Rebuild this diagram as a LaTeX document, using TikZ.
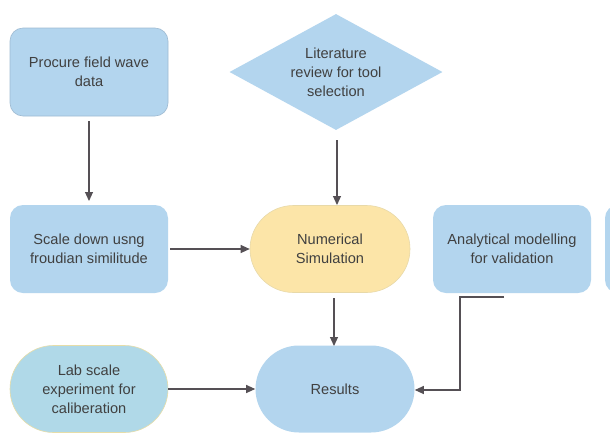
\documentclass[tikz,border=0pt]{standalone}
\usepackage{fontspec}
\setmainfont{Liberation Sans}
\usetikzlibrary{arrows.meta,shapes.geometric}
\definecolor{boxblue}{HTML}{B3D5EE}
\definecolor{boxedge}{HTML}{9FBBD2}
\definecolor{simyellow}{HTML}{FCE5A8}
\definecolor{simedge}{HTML}{E8D9A8}
\definecolor{labblue}{HTML}{B0D9E8}
\definecolor{labedge}{HTML}{E6DDA8}
\definecolor{txt}{HTML}{404040}
\definecolor{arr}{HTML}{555055}
\tikzset{
  x=1pt,y=-1pt,
  lbl/.style={font=\fontsize{14.6}{19}\selectfont, text=txt, align=center},
  rbox/.style={lbl, draw=boxedge, line width=0.6pt, fill=boxblue, rounded corners=13pt,
    minimum width=158pt, minimum height=88pt, inner sep=0pt},
  stad/.style={lbl, draw=boxedge, line width=0.6pt, fill=boxblue, rounded corners=43.5pt,
    minimum height=87pt, inner sep=0pt},
  conn/.style={draw=arr, line width=1.1pt, -{Triangle[length=9pt,width=8pt]}}
}
\begin{document}
\begin{tikzpicture}
\useasboundingbox (0,0) rectangle (610,432);
\fill[white] (0,0) rectangle (610,432);
\node[rbox] (procure) at (89,72) {Procure field wave\\data};
\node[lbl, diamond, fill=boxblue, aspect=1.83, minimum width=213pt, minimum height=116pt, inner sep=0pt] (lit) at (336,72) {Literature\\review for tool\\selection};
\node[rbox, draw=none] (scale) at (89,249) {Scale down usng\\froudian similitude};
\node[stad, fill=simyellow, draw=simedge, minimum width=160pt] (num) at (330,249) {Numerical\\Simulation};
\node[rbox, draw=none] (ana) at (512,249) {Analytical modelling\\for validation};
\node[rbox, draw=none] (cut) at (684,249) {};
\node[stad, fill=labblue, draw=labedge, minimum width=158pt] (lab) at (89,389) {Lab scale\\experiment for\\caliberation};
\node[stad, draw=none, minimum width=159pt] (res) at (335,389) {Results};
\coordinate (anaout) at (504,297);
\draw[conn] (procure.south |- 0,121) -- (procure.south |- 0,201);
\draw[conn] (337,140) -- (337,205);
\draw[conn] (170,249) -- (num.west);
\draw[conn] (334,298) -- (334,346);
\draw[conn] (lab.east) -- (res.west);
\draw[conn] (anaout) -- (460,297) -- (460,390) -- (res.east |- 0,390);
\end{tikzpicture}
\end{document}
